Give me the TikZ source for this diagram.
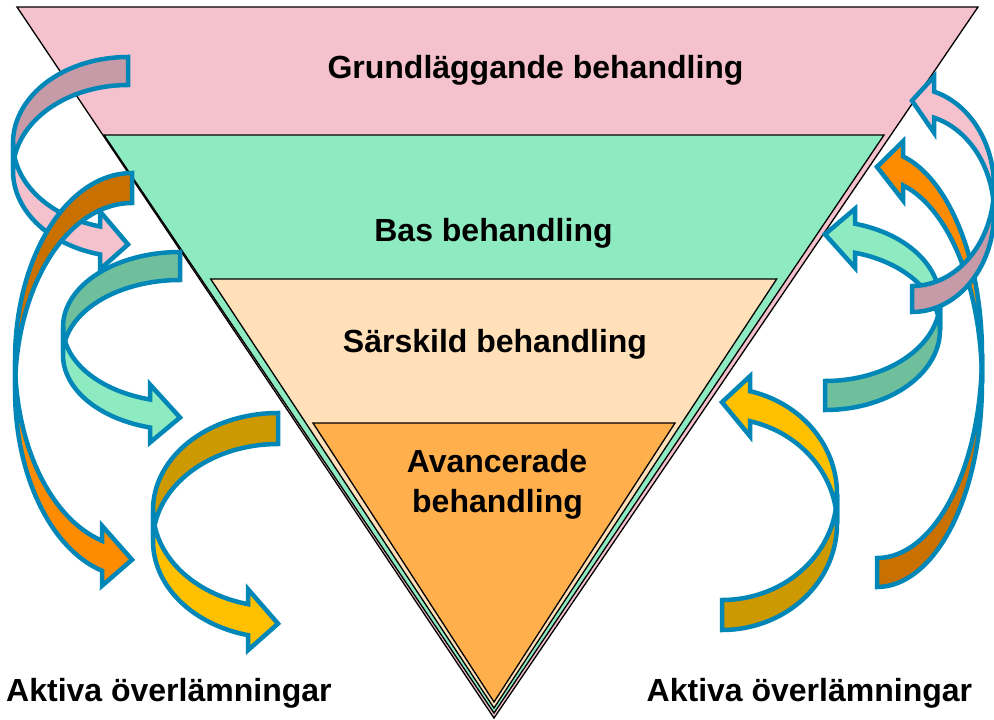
\documentclass[tikz,border=0pt]{standalone}
\usepackage{fontspec}
\setmainfont{Liberation Sans}

\definecolor{layerA}{HTML}{F4C1CD}
\definecolor{layerB}{HTML}{8EEBC1}
\definecolor{layerC}{HTML}{FFE0B8}
\definecolor{layerD}{HTML}{FFB04C}
\definecolor{rim}{HTML}{0087B8}
\definecolor{pinkback}{HTML}{C69AA6}
\definecolor{greenback}{HTML}{6FBE9C}
\definecolor{orangefront}{HTML}{FF8C00}
\definecolor{orangeback}{HTML}{C87000}
\definecolor{goldfront}{HTML}{FFC000}
\definecolor{goldback}{HTML}{CC9900}

% A curved band arrow: the band leaves a vertical cut at x=#1 (outer corner
% at y=#2, thickness #3), turns round half an ellipse of horizontal radius #4
% whose turning point is at y=#5, and ends in a head whose base is at x=#6.
% #7 colours the far side of the band, #8 the near side.
\newcommand\ribbonarrow[8]{%
  \pgfmathsetmacro\rbB{#5-#2}%
  \pgfmathsetmacro\rbTh{180+acos((#1-#6)/#4)}%
  \pgfmathsetmacro\rbYa{#5-\rbB*sin(\rbTh)}%
  \pgfmathsetmacro\rbYb{\rbYa+#3}%
  \pgfmathsetmacro\rbYm{(\rbYa+\rbYb)/2+4}%
  \filldraw[ribbon,fill=#7]
    plot[domain=90:180] ({#1+#4*cos(\x)},{#5-\rbB*sin(\x)})
    -- plot[domain=180:90] ({#1+#4*cos(\x)},{#5+#3-\rbB*sin(\x)})
    -- cycle;
  \filldraw[ribbon,fill=#8]
    plot[domain=180:\rbTh] ({#1+#4*cos(\x)},{#5-\rbB*sin(\x)})
    -- (#6,\rbYa-15) -- (#1,\rbYm) -- (#6,\rbYb+15)
    -- plot[domain=\rbTh:180] ({#1+#4*cos(\x)},{#5+#3-\rbB*sin(\x)})
    -- cycle;
}

\begin{document}
\begin{tikzpicture}[x=1pt,y=-1pt,samples=40,
  layer/.style={draw=black,line width=1.3pt,line join=miter},
  ribbon/.style={draw=rim,line width=4.5pt,line join=miter},
  lbl/.style={font=\fontsize{32}{38}\selectfont\bfseries,inner sep=0pt}]

\useasboundingbox (0,0) rectangle (994,720);
\fill[white] (0,0) rectangle (994,720);

% nested inverted triangles
\filldraw[layer,fill=layerA] (17,7) -- (978,7) -- (494,718) -- cycle;
\filldraw[layer,fill=layerB] (104,135) -- (884,135) -- (494,713) -- cycle;
\filldraw[layer,fill=layerC] (210.7,279) -- (776.7,279) -- (494,708) -- cycle;
\filldraw[layer,fill=layerD] (313,423) -- (675,423) -- (494,702) -- cycle;

% level labels
\node[lbl,anchor=base] (grund) at (535.5,78) {Grundläggande behandling};
\node[lbl,anchor=base] (bas) at (493.5,241) {Bas behandling};
\node[lbl,anchor=base] (sarskild) at (495,352) {Särskild behandling};
\node[lbl,anchor=base] (avanc) at (497,472) {Avancerade};
\node[lbl,anchor=base] (avancb) at (497.5,512) {behandling};

% hand-over labels
\node[lbl,anchor=base west] (handleft) at (6,701.5) {Aktiva överlämningar};
\node[lbl,anchor=base west] (handright) at (646.5,701.5) {Aktiva överlämningar};

% arrows on the left, turning downwards
\ribbonarrow{128}{57}{28}{115}{143}{100}{pinkback}{layerA}
\ribbonarrow{132}{173}{30}{117}{360}{102}{orangeback}{orangefront}
\ribbonarrow{180}{252}{28}{117}{327}{150}{greenback}{layerB}
\ribbonarrow{278}{413}{31}{125}{510}{248}{goldback}{goldfront}

% arrows on the right, turning upwards
\begin{scope}[shift={(994,720)},rotate=180]
  \ribbonarrow{272}{90}{30}{115}{196}{244}{goldback}{goldfront}
  \ribbonarrow{169}{310}{29}{115}{390}{139}{greenback}{layerB}
  \ribbonarrow{117}{133}{29}{105}{337}{91}{orangeback}{orangefront}
  \ribbonarrow{82}{408}{26}{82}{507}{60}{pinkback}{layerA}
\end{scope}

\end{tikzpicture}
\end{document}
